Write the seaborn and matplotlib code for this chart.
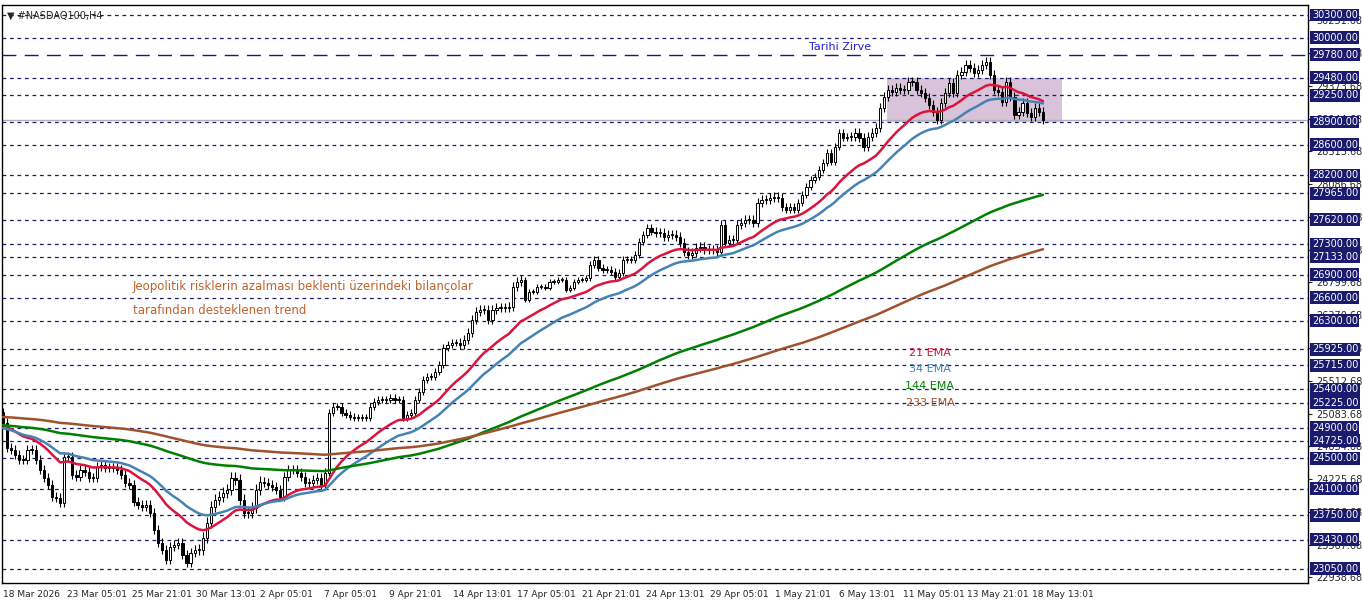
import numpy as np
import pandas as pd
import matplotlib
matplotlib.use("Agg")
import matplotlib.pyplot as plt
import seaborn as sns
from matplotlib.patches import Rectangle

closes = [24959,24632,24606,24540,24475,24475,24606,24606,24475,24344,24239,24148,23990,23977,23912,24514,
24514,24278,24252,24344,24318,24239,24239,24383,24409,24370,24370,24370,24344,24278,24173,24148,
23925,23886,23860,23886,23781,23558,23388,23296,23166,23336,23362,23388,23231,23126,23257,23296,
23296,23454,23650,23860,23951,23990,24043,24082,24239,24213,23951,23781,23781,23846,24082,24187,
24173,24148,24121,24082,23990,24252,24344,24344,24305,24252,24173,24173,24213,24239,24148,24305,
25090,25168,25168,25090,25064,25038,25024,25024,25024,25024,25168,25234,25260,25260,25260,25286,
25260,25260,25024,25064,25090,25260,25365,25522,25561,25561,25627,25718,25941,25980,26006,26006,
25980,26045,26137,26307,26412,26438,26438,26307,26438,26464,26464,26464,26477,26739,26805,26831,
26569,26674,26674,26739,26739,26726,26805,26805,26831,26831,26700,26726,26805,26831,26831,26857,
27027,27093,26988,26962,26962,26936,26870,26922,27093,27093,27093,27158,27328,27420,27511,27459,
27446,27446,27394,27420,27420,27394,27315,27197,27158,27184,27250,27263,27224,27224,27224,27197,
27551,27315,27354,27354,27551,27577,27616,27616,27577,27839,27878,27878,27904,27917,27904,27786,
27747,27786,27747,27839,27944,28048,28140,28179,28271,28362,28493,28375,28572,28755,28690,28703,
28703,28755,28690,28572,28703,28755,28820,29082,29226,29318,29292,29344,29318,29318,29423,29423,
29318,29279,29213,29122,29030,28925,29148,29279,29410,29279,29514,29553,29645,29606,29540,29580,
29645,29684,29514,29318,29292,29161,29423,29226,28991,29030,29148,29017,28965,29082,29030,28925]
first_open = 25100
seg_wick = [60, 70, 60, 80, 60, 50, 50, 60, 40, 50, 60, 60, 50, 60, 70, 60, 70]

ema_specs = [("21 EMA", 21, 24930, "#dc143c"), ("34 EMA", 34, 24890, "#4682b4"),
             ("144 EMA", 144, 24930, "#008000"), ("233 EMA", 233, 25040, "#a0522d")]

levels = [30300, 30000, 29480, 29250, 28900, 28600, 28200, 27965, 27620, 27300, 27133, 26900,
          26600, 26300, 25925, 25715, 25400, 25225, 24900, 24725, 24500, 24100, 23750, 23430, 23050]
ath_level = 29780
box_low, box_high = 28900, 29480
grid_labels = [22938.68 + 429 * k for k in range(18)]
date_labels = ["18 Mar 2026", "23 Mar 05:01", "25 Mar 21:01", "30 Mar 13:01", "2 Apr 05:01",
               "7 Apr 05:01", "9 Apr 21:01", "14 Apr 13:01", "17 Apr 05:01", "21 Apr 21:01",
               "24 Apr 13:01", "29 Apr 05:01", "1 May 21:01", "6 May 13:01", "11 May 05:01",
               "13 May 21:01", "18 May 13:01"]

n = len(closes)
c = np.array(closes, float)
o = np.concatenate([[first_open], c[:-1]])
w = np.array([seg_wick[min(i // 16, len(seg_wick) - 1)] for i in range(n)], float)
h = np.maximum(o, c) + w
l = np.minimum(o, c) - w * 0.8

sns.set_style("white")
plt.rcParams['font.family'] = ['DejaVu Sans']
fig = plt.figure(figsize=(13.62, 6.03), dpi=100)
ax = fig.add_axes([2/1362, 20/603, 1306/1362, 578/603])
pitch = 1040 / (n - 1)
xr = (n - 1) + (1308 - 1043) / pitch
x0 = -(3 - 2) / pitch
ax.set_xlim(x0, xr)
ax.set_ylim(22865, 30431)

def px(p):
    return x0 + (p - 2) / 1306 * (xr - x0)

for lv in levels:
    ax.axhline(lv, color="#1a1a6e", lw=0.9, ls=(0, (3, 3)), zorder=1)
ax.axhline(ath_level, color="#1a1a6e", lw=1.0, ls=(0, (10, 6)), zorder=1)
ax.axhline(28930, color="#b0b0b0", lw=1, zorder=1)
ax.add_patch(Rectangle((px(887), box_low), px(1062) - px(887), box_high - box_low,
                       facecolor="#d8c3da", edgecolor="none", zorder=0.5))

idx = np.arange(n)
bw = 0.7 * 4 / pitch * 0.8
for i in range(n):
    ax.vlines(idx[i], l[i], h[i], color="black", lw=0.8, zorder=3)
    bull = c[i] >= o[i]
    bot = min(o[i], c[i]); ht = max(abs(c[i] - o[i]), 8)
    ax.add_patch(Rectangle((idx[i] - bw / 2, bot), bw, ht, facecolor="white" if bull else "black",
                           edgecolor="black", lw=0.7, zorder=4))

rows = []
for name, span, seed, col in ema_specs:
    a = 2 / (span + 1); e = seed; vals = []
    for v in c:
        e = e + a * (v - e); vals.append(e)
    rows.append(pd.DataFrame({"i": idx, "v": vals, "name": name}))
df = pd.concat(rows)
sns.lineplot(data=df, x="i", y="v", hue="name", palette={s[0]: s[3] for s in ema_specs},
             lw=1.8, legend=False, ax=ax, zorder=5)

ax.set_xlabel(""); ax.set_ylabel("")
ax.set_xticks([px(3 + 64.3 * k) for k in range(len(date_labels))])
ax.set_xticklabels(date_labels, fontsize=6.5, ha="left")
ax.tick_params(axis="x", length=3, pad=2)
ax.yaxis.tick_right()
ax.set_yticks(grid_labels)
ax.set_yticklabels([f"{g:.2f}" for g in grid_labels], fontsize=7)
ax.tick_params(axis="y", length=3, pad=3)
for lv in levels + [ath_level]:
    ax.text(1.003, lv, f"{lv:.2f}", transform=ax.get_yaxis_transform(), fontsize=7, color="white",
            va="center", ha="left", bbox=dict(boxstyle="square,pad=0.15", fc="#1a1a6e", ec="none"), zorder=10)
for s in ax.spines.values():
    s.set_color("black"); s.set_linewidth(1)

ax.text(0.004, 0.99, "▼ #NASDAQ100,H4", transform=ax.transAxes, fontsize=7, va="top")
ax.text(px(840), 29880, "Tarihi Zirve", color="#2020d0", fontsize=8, ha="center", va="center")
ax.text(px(133), 26750, "Jeopolitik risklerin azalması beklenti üzerindeki bilançolar", color="#c0622d", fontsize=8.5, va="center")
ax.text(px(133), 26430, "tarafından desteklenen trend", color="#c0622d", fontsize=8.5, va="center")
for k, (name, span, seed, col) in enumerate(ema_specs):
    ax.text(px(930), 25880 - 220 * k, name, color=col, fontsize=8, ha="center", va="center")

fig.savefig("out.png", dpi=100)
